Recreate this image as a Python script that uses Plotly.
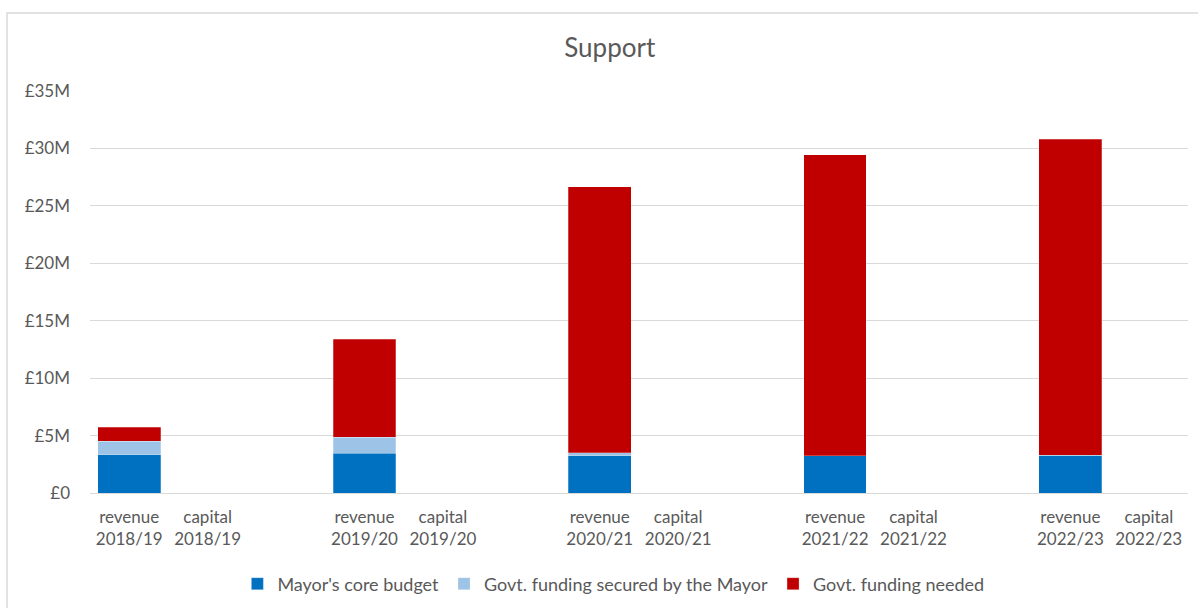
import plotly.graph_objects as go

years = ["2018/19", "2019/20", "2020/21", "2021/22", "2022/23"]
kinds = ["revenue", "capital"]

# values in £M, per year: [revenue, capital]
core_budget = [[3.34, 0], [3.45, 0], [3.25, 0], [3.25, 0], [3.28, 0]]
govt_secured = [[1.16, 0], [1.40, 0], [0.26, 0], [0.0, 0], [0.0, 0]]
govt_needed = [[1.22, 0], [8.52, 0], [23.17, 0], [26.22, 0], [27.50, 0]]

series_names = ["Mayor's core budget", "Govt. funding secured by the Mayor", "Govt. funding needed"]
series_colors = ["#0070C0", "#9DC3E6", "#C00000"]

y_tickvals = [0, 5, 10, 15, 20, 25, 30, 35]
y_ticktext = ["£0", "£5M", "£10M", "£15M", "£20M", "£25M", "£30M", "£35M"]

# positions: each year occupies 3 slots (revenue, capital, gap)
xs, labels = [], []
for gi, yr in enumerate(years):
    for ki, k in enumerate(kinds):
        xs.append(gi * 3 + ki)
        labels.append(f"{k}<br>{yr}")

def flat(v):
    return [a for pair in v for a in pair]

fig = go.Figure()
for name, col, vals in zip(series_names, series_colors, [core_budget, govt_secured, govt_needed]):
    fig.add_trace(go.Bar(
        x=xs, y=flat(vals), name=name, width=0.8,
        marker=dict(color=col, line=dict(color="rgba(255,255,255,0.5)", width=0.5)),
        hoverinfo="skip",
    ))

font_fam = "Lato, 'Open Sans', sans-serif"
gray = "#595959"

L, R, T, B = 90, 10, 91, 115
W, H = 1198, 608
pw, ph = W - L - R, H - T - B

fig.update_layout(
    width=W, height=H,
    barmode="stack",
    paper_bgcolor="white", plot_bgcolor="white",
    margin=dict(l=L, r=R, t=T, b=B, autoexpand=False),
    font=dict(family=font_fam, color=gray, size=17),
    title=dict(text="Support", x=0.509, xanchor="center", y=1 - 48 / H, yanchor="middle",
               font=dict(size=26, color=gray, family=font_fam)),
    showlegend=True,
    legend=dict(orientation="h", x=0.512, xref="container", xanchor="center",
                y=1 - 584 / H, yref="container", yanchor="middle",
                font=dict(size=18, color=gray), traceorder="normal",
                itemwidth=30, tracegroupgap=0),
    xaxis=dict(range=[-0.5, 13.5], tickvals=xs, ticktext=labels, showgrid=False,
               zeroline=False, showline=False, ticks="", tickfont=dict(size=17, color=gray),
               ticklabelstandoff=12, fixedrange=True),
    yaxis=dict(range=[0, 35], tickvals=y_tickvals, ticktext=y_ticktext, showgrid=True,
               gridcolor="#D9D9D9", gridwidth=1, zeroline=True, zerolinecolor="#D9D9D9",
               zerolinewidth=1, showline=False, ticks="", ticklabelstandoff=19,
               tickfont=dict(size=17, color=gray), fixedrange=True),
)

# outer chart border
fig.add_shape(type="rect", xref="paper", yref="paper",
              x0=(7 - L) / pw, x1=(W + 5 - L) / pw,
              y0=(H - B - (H + 5)) / ph, y1=(H - B - 13) / ph,
              line=dict(color="#D9D9D9", width=1.5), layer="below")

fig.write_html("out.html")
